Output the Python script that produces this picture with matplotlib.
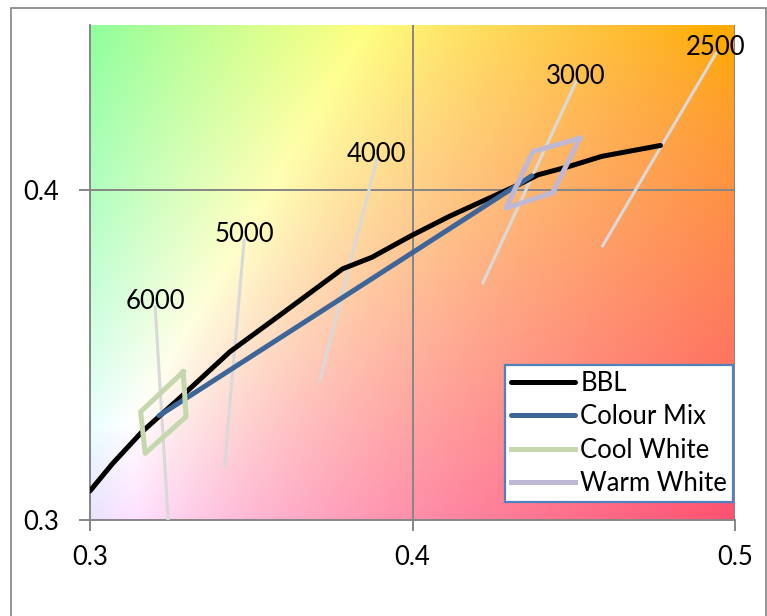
import numpy as np
import matplotlib.pyplot as plt
from matplotlib.patches import Rectangle

# black body locus
bbl_x = [0.300, 0.307, 0.3161, 0.3282, 0.3434, 0.3592, 0.3783, 0.3874, 0.3995,
         0.4116, 0.4237, 0.4329, 0.4389, 0.4481, 0.4587, 0.4769]
bbl_y = [0.3088, 0.3171, 0.3267, 0.3373, 0.3510, 0.3623, 0.3761, 0.3796, 0.3861,
         0.3921, 0.3975, 0.4016, 0.4046, 0.4070, 0.4102, 0.4135]

# straight line between the two LED bins
mix_x = [0.3214, 0.4370]
mix_y = [0.3316, 0.4043]

# binning quadrangles
cool_x = [0.3289, 0.3298, 0.3171, 0.3157]
cool_y = [0.3449, 0.3313, 0.3202, 0.3328]
warm_x = [0.4519, 0.4435, 0.4290, 0.4373]
warm_y = [0.4157, 0.3992, 0.3945, 0.4116]

# isotherm lines: (top, bottom) per CCT
cct_labels = ['6000', '5000', '4000', '3000', '2500']
iso_top_x = [0.3202, 0.3478, 0.3889, 0.4507, 0.4941]
iso_top_y = [0.3646, 0.3848, 0.4091, 0.4328, 0.4414]
iso_bot_x = [0.3243, 0.3417, 0.3713, 0.4218, 0.4589]
iso_bot_y = [0.2990, 0.3162, 0.3424, 0.3718, 0.3830]


def chromaticity_image(x0, x1, y0, y1, nx=220, ny=170):
    """sRGB rendering of the xy plane, each colour scaled to full brightness"""
    xs = np.linspace(x0, x1, nx)
    ys = np.linspace(y0, y1, ny)
    gx, gy = np.meshgrid(xs, ys)
    X = gx / gy
    Y = np.ones_like(gx)
    Z = (1 - gx - gy) / gy
    r = 3.2406 * X - 1.5372 * Y - 0.4986 * Z
    g = -0.9689 * X + 1.8758 * Y + 0.0415 * Z
    b = 0.0557 * X - 0.2040 * Y + 1.0570 * Z
    rgb = np.clip(np.dstack([r, g, b]), 0, None)
    rgb = rgb / rgb.max(axis=2, keepdims=True)
    rgb = np.where(rgb <= 0.0031308, 12.92 * rgb,
                   1.055 * np.power(rgb, 1 / 2.4) - 0.055)
    return np.clip(rgb, 0, 1)


plt.rcParams['font.family'] = ['Lato', 'DejaVu Sans']
fs = 18.5
fig = plt.figure(figsize=(7.67, 6.16), dpi=100)
W, H = 767, 616
ax = fig.add_axes([90 / W, 1 - 520 / H, (735 - 90) / W, (520 - 25) / H])

# outer chart border
fig.patches.append(Rectangle((11 / W, -0.05), (766 - 11) / W, 1 - 8 / H + 0.05,
                             transform=fig.transFigure, fill=False,
                             edgecolor='#8c8c8c', linewidth=1.3))

xmin, xmax, ymin, ymax = 0.3, 0.5, 0.3, 0.45
ax.imshow(chromaticity_image(xmin, xmax, ymin, ymax), origin='lower',
          extent=[xmin, xmax, ymin, ymax], aspect='auto',
          interpolation='bilinear', zorder=0)

grid_col = '#868686'
for gx in [0.4, 0.5]:
    ax.axvline(gx, color=grid_col, linewidth=1.4, zorder=1)
ax.axhline(0.4, color=grid_col, linewidth=1.4, zorder=1)

for lab, tx, ty, bx, by in zip(cct_labels, iso_top_x, iso_top_y, iso_bot_x, iso_bot_y):
    ax.plot([bx, tx], [by, ty], color='#d9d9d9', linewidth=2.2,
            solid_capstyle='round', zorder=2)
    ax.annotate(lab, (tx, ty), xytext=(0, 4), textcoords='offset points',
                ha='center', va='center', fontsize=fs, color='black', zorder=6)

lw = 3.6
ax.plot(bbl_x, bbl_y, color='black', linewidth=lw, solid_capstyle='round',
        solid_joinstyle='round', label='BBL', zorder=3)
ax.plot(mix_x, mix_y, color='#3d6597', linewidth=lw, solid_capstyle='round',
        label='Colour Mix', zorder=4)
ax.plot(cool_x + cool_x[:1], cool_y + cool_y[:1], color='#c4d7ad', linewidth=lw,
        solid_joinstyle='round', label='Cool White', zorder=5)
ax.plot(warm_x + warm_x[:1], warm_y + warm_y[:1], color='#bfb8d5', linewidth=lw,
        solid_joinstyle='round', label='Warm White', zorder=5)

ax.set_xlim(xmin, xmax)
ax.set_ylim(ymin, ymax)
ax.set_xticks([0.3, 0.4, 0.5])
ax.set_xticklabels(['0.3', '0.4', '0.5'])
ax.set_yticks([0.3, 0.4])
ax.set_yticklabels(['0.3', '0.4'])
ax.tick_params(direction='out', length=8, width=1.4, color=grid_col,
               labelsize=fs, pad=10)
ax.tick_params(axis='y', pad=14)
for side in ['top', 'right']:
    ax.spines[side].set_visible(False)
for side in ['left', 'bottom']:
    ax.spines[side].set_color(grid_col)
    ax.spines[side].set_linewidth(1.4)
    ax.spines[side].set_zorder(1)

leg = ax.legend(loc='lower right', bbox_to_anchor=(733 / W, 1 - 502 / H),
                bbox_transform=fig.transFigure, fontsize=fs, frameon=True,
                fancybox=False, handlelength=2.5, handletextpad=0.2,
                labelspacing=0.33, borderpad=0.22, borderaxespad=0)
leg.get_frame().set_edgecolor('#4f81bd')
leg.get_frame().set_linewidth(1.6)
leg.get_frame().set_alpha(1)
leg.set_zorder(7)

fig.savefig('out.png', dpi=100, facecolor='white')
